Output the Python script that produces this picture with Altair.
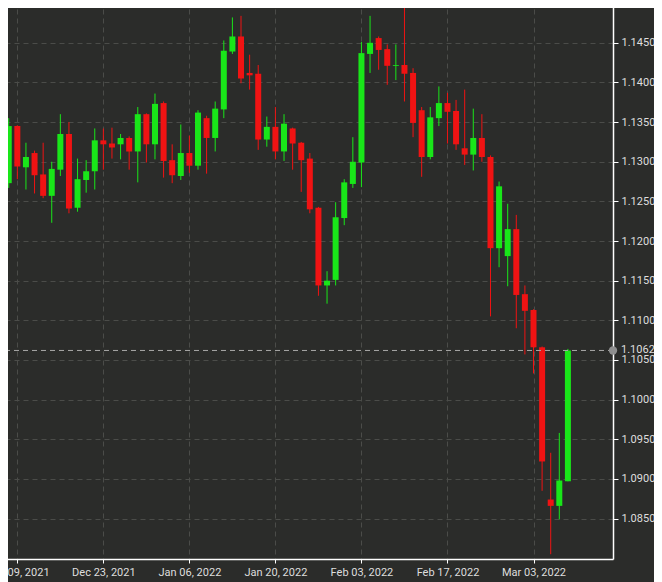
import altair as alt
import pandas as pd
import numpy as np

# ---- data (EUR/USD daily candles) ----
dates = pd.bdate_range("2021-12-08", "2022-03-09")
opens = [1.1273, 1.1345, 1.1293, 1.1311, 1.1284, 1.1257, 1.1290, 1.1335, 1.1242, 1.1277,
         1.1288, 1.1327, 1.1323, 1.1322, 1.1330, 1.1313, 1.1360, 1.1322, 1.1374, 1.1302,
         1.1282, 1.1311, 1.1295, 1.1355, 1.1330, 1.1366, 1.1439, 1.1458, 1.1412, 1.1411,
         1.1328, 1.1344, 1.1313, 1.1342, 1.1324, 1.1304, 1.1242, 1.1144, 1.1151, 1.1229,
         1.1272, 1.1299, 1.1436, 1.1456, 1.1442, 1.1421, 1.1422, 1.1412, 1.1365, 1.1306,
         1.1355, 1.1374, 1.1364, 1.1317, 1.1309, 1.1330, 1.1306, 1.1191, 1.1181, 1.1215,
         1.1133, 1.1113, 1.1066, 1.0874, 1.0866, 1.0897]
highs = [1.1355, 1.1346, 1.1324, 1.1314, 1.1324, 1.1300, 1.1360, 1.1350, 1.1304, 1.1302,
         1.1342, 1.1342, 1.1343, 1.1335, 1.1332, 1.1369, 1.1361, 1.1386, 1.1376, 1.1322,
         1.1347, 1.1333, 1.1365, 1.1358, 1.1376, 1.1453, 1.1482, 1.1484, 1.1435, 1.1422,
         1.1357, 1.1369, 1.1360, 1.1343, 1.1325, 1.1311, 1.1243, 1.1162, 1.1249, 1.1278,
         1.1331, 1.1451, 1.1484, 1.1458, 1.1448, 1.1448, 1.1495, 1.1418, 1.1369, 1.1369,
         1.1395, 1.1387, 1.1378, 1.1391, 1.1367, 1.1360, 1.1308, 1.1275, 1.1247, 1.1233,
         1.1144, 1.1114, 1.1067, 1.0933, 1.0958, 1.1064]
lows = [1.1267, 1.1278, 1.1265, 1.1260, 1.1254, 1.1223, 1.1282, 1.1235, 1.1237, 1.1261,
        1.1265, 1.1290, 1.1304, 1.1303, 1.1290, 1.1274, 1.1299, 1.1303, 1.1280, 1.1273,
        1.1277, 1.1286, 1.1290, 1.1285, 1.1313, 1.1355, 1.1436, 1.1399, 1.1391, 1.1315,
        1.1319, 1.1303, 1.1301, 1.1290, 1.1262, 1.1235, 1.1131, 1.1121, 1.1144, 1.1220,
        1.1267, 1.1268, 1.1412, 1.1416, 1.1397, 1.1403, 1.1376, 1.1331, 1.1281, 1.1303,
        1.1345, 1.1323, 1.1315, 1.1296, 1.1289, 1.1300, 1.1105, 1.1167, 1.1143, 1.1090,
        1.1057, 1.1033, 1.0885, 1.0805, 1.0849, 1.0897]
closes = [1.1345, 1.1294, 1.1306, 1.1283, 1.1257, 1.1291, 1.1335, 1.1241, 1.1278, 1.1288,
          1.1327, 1.1322, 1.1318, 1.1330, 1.1313, 1.1360, 1.1322, 1.1373, 1.1301, 1.1283,
          1.1311, 1.1295, 1.1362, 1.1330, 1.1367, 1.1440, 1.1458, 1.1405, 1.1409, 1.1328,
          1.1344, 1.1313, 1.1348, 1.1323, 1.1302, 1.1240, 1.1144, 1.1150, 1.1230, 1.1274,
          1.1300, 1.1437, 1.1450, 1.1441, 1.1421, 1.1422, 1.1411, 1.1349, 1.1306, 1.1356,
          1.1374, 1.1363, 1.1322, 1.1309, 1.1330, 1.1306, 1.1191, 1.1269, 1.1215, 1.1132,
          1.1112, 1.1066, 1.0922, 1.0866, 1.0898, 1.1062]

tick_dates = ["2021-12-09", "2021-12-23", "2022-01-06", "2022-01-20",
              "2022-02-03", "2022-02-17", "2022-03-03"]
price_ticks = [1.0850, 1.0900, 1.0950, 1.1000, 1.1050, 1.1100, 1.1150,
               1.1200, 1.1250, 1.1300, 1.1350, 1.1400, 1.1450]
last_price = 1.1062

# ---- styling ----
BG = "#2b2c2a"
GREEN = "#19e619"
RED = "#f01313"
GRID = "#4b4c49"
LABEL = "#dedede"
FONT = "Roboto"

date_str = list(dates.strftime("%Y-%m-%d"))
df = pd.DataFrame({"idx": np.arange(len(dates)), "date": date_str,
                   "open": opens, "high": highs, "low": lows, "close": closes})
df["dir"] = np.where(df["close"] >= df["open"], "up", "down")

tick_idx = [date_str.index(d) for d in tick_dates]
tick_lab = [pd.Timestamp(d).strftime("%b %d, %Y") for d in tick_dates]
expr = "''"
for i, lab in reversed(list(zip(tick_idx, tick_lab))):
    expr = f"datum.value == {i} ? '{lab}' : ({expr})"

xscale = alt.Scale(domain=[-0.434, 69.66], nice=False, zero=False)
yscale = alt.Scale(domain=[1.0799, 1.1504], nice=False, zero=False)

xaxis = alt.Axis(values=tick_idx, labelExpr=expr, orient="bottom", title=None,
                 grid=True, gridColor=GRID, gridDash=[5, 4], gridWidth=1,
                 domainColor="#ffffff", domainWidth=1.5, tickColor="#ffffff", tickSize=4,
                 labelColor=LABEL, labelFont=FONT, labelFontSize=11, labelPadding=3,
                 labelFlush=False, labelOverlap=False)
yaxis = alt.Axis(values=price_ticks, format=".4f", orient="right", title=None,
                 grid=True, gridColor=GRID, gridDash=[5, 4], gridWidth=1,
                 domainColor="#ffffff", domainWidth=1.5, tickColor="#ffffff", tickSize=5,
                 labelColor=LABEL, labelFont=FONT, labelFontSize=11, labelPadding=3,
                 labelFlush=False, labelOverlap=False)

color = alt.Color("dir:N", scale=alt.Scale(domain=["up", "down"], range=[GREEN, RED]),
                  legend=None)

base = alt.Chart(df)
wicks = base.mark_rule(strokeWidth=1).encode(
    x=alt.X("idx:Q", scale=xscale, axis=xaxis),
    y=alt.Y("low:Q", scale=yscale, axis=yaxis),
    y2="high:Q",
    color=color,
)
bodies = base.mark_bar(size=6).encode(
    x=alt.X("idx:Q", scale=xscale, axis=xaxis),
    y=alt.Y("open:Q", scale=yscale, axis=yaxis),
    y2="close:Q",
    color=color,
)

pdf = pd.DataFrame({"price": [last_price]})
pline = alt.Chart(pdf).mark_rule(strokeDash=[5, 4], color="#a8a8a8", strokeWidth=1).encode(
    y=alt.Y("price:Q", scale=yscale, axis=yaxis)
)
pdot = alt.Chart(pdf).mark_point(filled=True, size=70, color="#8f8f8f", opacity=1).encode(
    x=alt.value(613),
    y=alt.Y("price:Q", scale=yscale, axis=yaxis),
)
plabel = alt.Chart(pdf).mark_text(align="left", baseline="middle", font=FONT, fontSize=11,
                                  color=LABEL).encode(
    x=alt.value(621),
    y=alt.Y("price:Q", scale=yscale, axis=yaxis),
    text=alt.Text("price:Q", format=".4f"),
)

chart = alt.layer(wicks, bodies, pline, pdot, plabel).properties(
    width=613, height=559,
    background=BG,
    padding={"left": -8, "top": -8, "right": 41, "bottom": 23},
    autosize=alt.AutoSizeParams(type="none"),
).configure_view(stroke=None)

chart.save("out.html", embed_options={"renderer": "svg", "actions": False})
